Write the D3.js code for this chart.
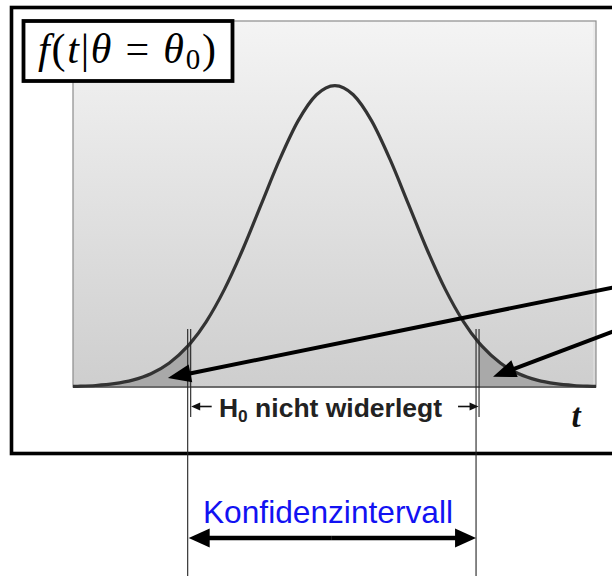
<!DOCTYPE html>
<html>
<head>
<meta charset="utf-8">
<script src="https://cdn.jsdelivr.net/npm/d3@7"></script>
<style>
  body { margin: 0; background: #fff; }
  svg { display: block; }
</style>
</head>
<body>
<svg id="chart" width="612" height="576"></svg>
<script>
// Sampling density of the test statistic t under H0 (standard normal shape)
const tValues = [-3.56, -3.5, -3.25, -3.0, -2.75, -2.5, -2.25, -2.0, -1.96, -1.75, -1.5, -1.25, -1.0, -0.75, -0.5, -0.25,
                 0, 0.25, 0.5, 0.75, 1.0, 1.25, 1.5, 1.75, 1.96, 2.0, 2.25, 2.5, 2.75, 3.0, 3.25, 3.5, 3.55];
const densityValues = [0.0007, 0.0009, 0.0020, 0.0044, 0.0091, 0.0175, 0.0317, 0.0540, 0.0584, 0.0863, 0.1295, 0.1826, 0.2420, 0.3011, 0.3521, 0.3867,
                       0.3989, 0.3867, 0.3521, 0.3011, 0.2420, 0.1826, 0.1295, 0.0863, 0.0584, 0.0540, 0.0317, 0.0175, 0.0091, 0.0044, 0.0020, 0.0009, 0.0007];

// Axis extents
const tDomain = [-3.56, 3.55];
const densityDomain = [0, 0.4843];

// Rejection boundaries (two-sided, 5 %)
const criticalValues = [-1.96, 1.96];

// Pointer arrows into the rejection tails: [t, density] for start and tip
const tailArrowStarts = [[4.15, 0.139], [4.15, 0.087]];
const tailArrowTips = [[-2.27, 0.0120], [2.15, 0.0135]];

// Labels
const titleParts = [
  { text: "f", italic: true },
  { text: "(", italic: false },
  { text: "t", italic: true },
  { text: "|", italic: false },
  { text: "θ", italic: true },
  { text: " = ", italic: false },
  { text: "θ", italic: true },
  { text: "0", italic: false, sub: true },
  { text: ")", italic: false }
];
const acceptLabel = { main: "H", sub: "0", rest: " nicht widerlegt" };
const axisLabel = "t";
const intervalLabel = "Konfidenzintervall";

const svg = d3.select("#chart");
const W = 612, H = 576;

const plot = { left: 73, right: 596, top: 21, bottom: 387 };

const x = d3.scaleLinear().domain(tDomain).range([plot.left, plot.right]);
const y = d3.scaleLinear().domain(densityDomain).range([plot.bottom, plot.top]);

const points = tValues.map((t, i) => ({ t, d: densityValues[i] }));

// ---- defs: background gradient and tail clips
const defs = svg.append("defs");
const grad = defs.append("linearGradient")
  .attr("id", "bgGrad").attr("x1", 0).attr("y1", 0).attr("x2", 0).attr("y2", 1);
grad.append("stop").attr("offset", "0%").attr("stop-color", "#f4f4f4");
grad.append("stop").attr("offset", "100%").attr("stop-color", "#cecece");

defs.append("clipPath").attr("id", "clipLeftTail")
  .append("rect")
  .attr("x", plot.left).attr("y", plot.top)
  .attr("width", x(criticalValues[0]) - plot.left)
  .attr("height", plot.bottom - plot.top);
defs.append("clipPath").attr("id", "clipRightTail")
  .append("rect")
  .attr("x", x(criticalValues[1])).attr("y", plot.top)
  .attr("width", plot.right - x(criticalValues[1]))
  .attr("height", plot.bottom - plot.top);

// ---- outer frame
svg.append("rect")
  .attr("x", 11.5).attr("y", 7.5)
  .attr("width", 720).attr("height", 446)
  .attr("fill", "#fff").attr("stroke", "#000").attr("stroke-width", 3.6);

// ---- plot panel
svg.append("rect")
  .attr("x", plot.left).attr("y", plot.top)
  .attr("width", plot.right - plot.left).attr("height", plot.bottom - plot.top)
  .attr("fill", "url(#bgGrad)")
  .attr("stroke", "#8c8c8c").attr("stroke-width", 1.2);
svg.append("line")
  .attr("x1", plot.right - 2).attr("x2", plot.right - 2)
  .attr("y1", plot.top + 1).attr("y2", plot.bottom)
  .attr("stroke", "#e4e4e4").attr("stroke-width", 1);

// ---- shaded rejection tails
const area = d3.area()
  .x(p => x(p.t)).y0(y(0)).y1(p => y(p.d))
  .curve(d3.curveMonotoneX);

["clipLeftTail", "clipRightTail"].forEach(id => {
  svg.append("path")
    .datum(points)
    .attr("d", area)
    .attr("fill", "#a9a9a9")
    .attr("clip-path", `url(#${id})`);
});

// baseline
svg.append("line")
  .attr("x1", plot.left).attr("x2", plot.right)
  .attr("y1", y(0)).attr("y2", y(0))
  .attr("stroke", "#555").attr("stroke-width", 1.5);

// ---- density curve
const line = d3.line().x(p => x(p.t)).y(p => y(p.d)).curve(d3.curveMonotoneX);
svg.append("path")
  .datum(points)
  .attr("d", line)
  .attr("fill", "none")
  .attr("stroke", "#333")
  .attr("stroke-width", 3.2)
  .attr("stroke-linejoin", "round");

// ---- boundary lines: long line (interval limit) and short line (acceptance limit)
criticalValues.forEach(c => {
  const cx = x(c);
  svg.append("line")
    .attr("x1", cx - 3).attr("x2", cx - 3)
    .attr("y1", 329).attr("y2", H)
    .attr("stroke", "#222").attr("stroke-width", 1.1);
  svg.append("line")
    .attr("x1", cx).attr("x2", cx)
    .attr("y1", 329).attr("y2", 417)
    .attr("stroke", "#222").attr("stroke-width", 1.1);
});

// arrowhead helper: filled triangle with tip at (tx,ty), pointing away from (fx,fy)
function arrow(g, fx, fy, tx, ty, width, headLen, headW, color) {
  const dx = tx - fx, dy = ty - fy;
  const L = Math.hypot(dx, dy);
  const ux = dx / L, uy = dy / L;
  const bx = tx - ux * headLen, by = ty - uy * headLen;
  g.append("line")
    .attr("x1", fx).attr("y1", fy)
    .attr("x2", tx - ux * headLen * 0.7).attr("y2", ty - uy * headLen * 0.7)
    .attr("stroke", color).attr("stroke-width", width);
  g.append("path")
    .attr("d", `M${tx},${ty}L${bx - uy * headW / 2},${by + ux * headW / 2}L${bx + uy * headW / 2},${by - ux * headW / 2}Z`)
    .attr("fill", color);
}

// ---- pointer arrows into the tails
const arrows = svg.append("g");
tailArrowStarts.forEach((s, i) => {
  const tip = tailArrowTips[i];
  arrow(arrows, x(s[0]), y(s[1]), x(tip[0]), y(tip[1]), 4, 23, 18, "#000");
});

// ---- acceptance region dimension
const dimY = 406.5;
const gDim = svg.append("g");
arrow(gDim, x(criticalValues[0]) + 21, dimY, x(criticalValues[0]) + 0.5, dimY, 1.6, 9, 8, "#111");
arrow(gDim, x(criticalValues[1]) - 21, dimY, x(criticalValues[1]) - 0.5, dimY, 1.6, 9, 8, "#111");

const acc = svg.append("text")
  .attr("x", 219).attr("y", 416.5)
  .attr("font-family", "Liberation Sans, Arial, sans-serif")
  .attr("font-weight", "bold")
  .attr("font-size", 26)
  .attr("textLength", 223)
  .attr("lengthAdjust", "spacingAndGlyphs")
  .attr("fill", "#222");
acc.append("tspan").text(acceptLabel.main);
acc.append("tspan").attr("font-size", 17).attr("dy", 5).text(acceptLabel.sub);
acc.append("tspan").attr("dy", -5).text(acceptLabel.rest);

// ---- axis label
svg.append("text")
  .attr("x", 576).attr("y", 427)
  .attr("text-anchor", "middle")
  .attr("font-family", "Liberation Serif, Times New Roman, serif")
  .attr("font-style", "italic").attr("font-weight", "bold")
  .attr("font-size", 33)
  .attr("fill", "#111")
  .text(axisLabel);

// ---- title box
svg.append("rect")
  .attr("x", 23.5).attr("y", 21)
  .attr("width", 209).attr("height", 60)
  .attr("fill", "#fff").attr("stroke", "#000").attr("stroke-width", 3.8);

const title = svg.append("text")
  .attr("x", 38).attr("y", 63)
  .attr("font-family", "Liberation Serif, Times New Roman, serif")
  .attr("font-size", 42)
  .attr("textLength", 178)
  .attr("lengthAdjust", "spacing")
  .style("white-space", "pre")
  .attr("fill", "#000");
titleParts.forEach((p, i) => {
  const ts = title.append("tspan")
    .attr("font-style", p.italic ? "italic" : "normal")
    .text(p.text);
  if (p.sub) ts.attr("font-size", 29).attr("dy", 6);
  else if (i > 0 && titleParts[i - 1].sub) ts.attr("dy", -6);
});

// ---- confidence interval
const ciY = 538;
const gCi = svg.append("g");
const ciL = x(criticalValues[0]) - 3, ciR = x(criticalValues[1]) - 3;
const ciMid = (ciL + ciR) / 2;
arrow(gCi, ciMid, ciY, ciL + 1, ciY, 4.5, 21, 19, "#000");
arrow(gCi, ciMid, ciY, ciR, ciY, 4.5, 21, 19, "#000");

svg.append("text")
  .attr("x", 328).attr("y", 522.5)
  .attr("text-anchor", "middle")
  .attr("font-family", "Liberation Sans, Arial, sans-serif")
  .attr("font-size", 31.5)
  .attr("textLength", 250)
  .attr("lengthAdjust", "spacingAndGlyphs")
  .attr("fill", "#1212f2")
  .text(intervalLabel);
</script>
</body>
</html>
